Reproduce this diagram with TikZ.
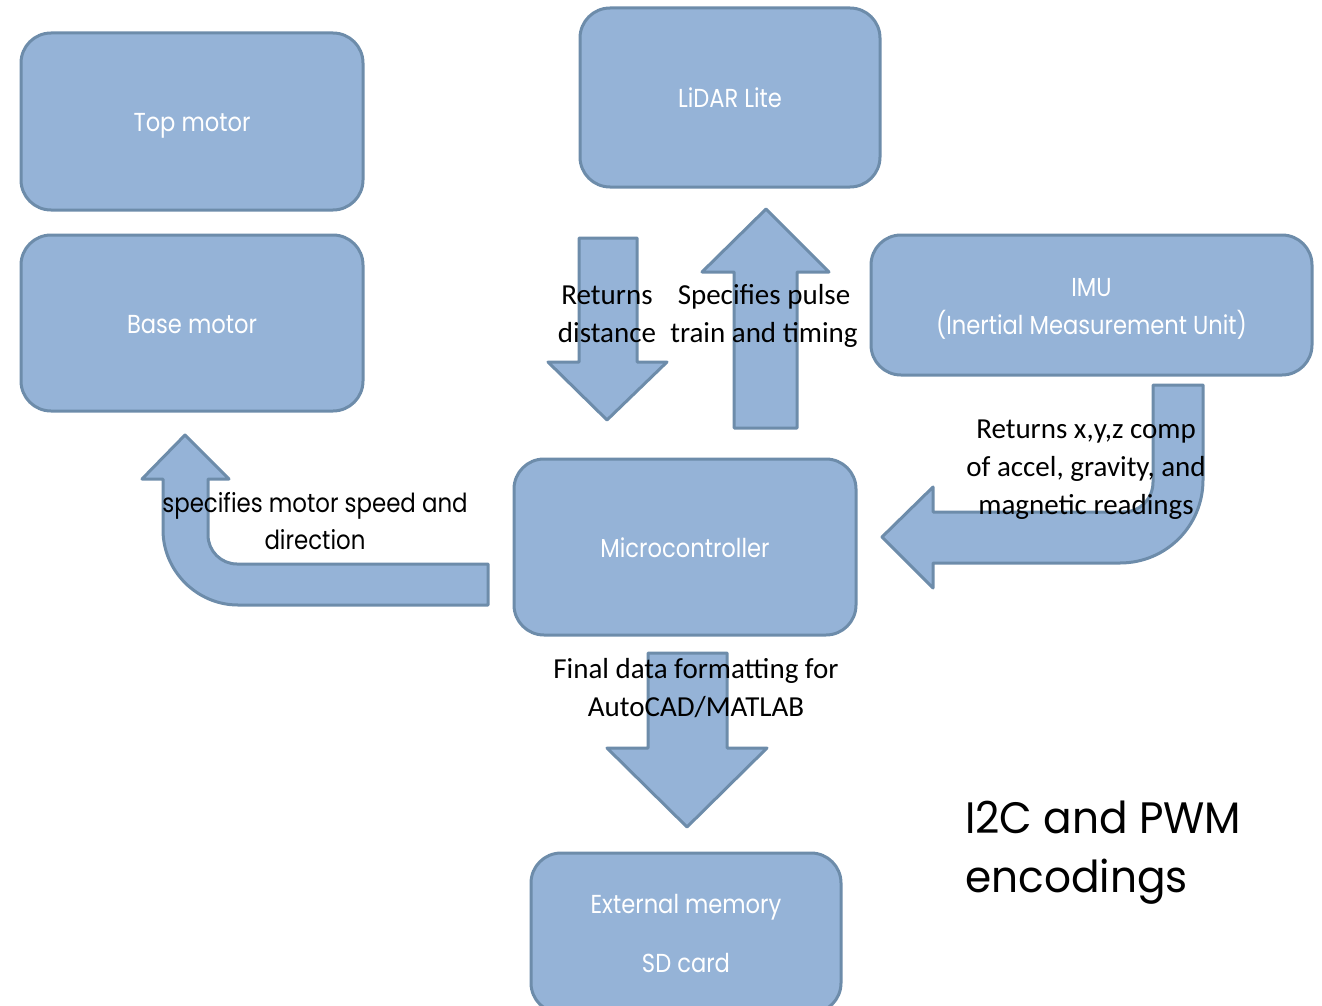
\documentclass[tikz,border=0pt]{standalone}
\usepackage{fontspec}
\setmainfont{Carlito}
\newfontfamily\tw[FakeStretch=0.87]{Poppins}
\newfontfamily\twwide[FakeStretch=0.96]{Poppins}
\definecolor{boxfill}{HTML}{95B3D7}
\definecolor{boxedge}{HTML}{6D8CAA}
\tikzset{
  blk/.style={draw=boxedge, fill=boxfill, line width=3pt, rounded corners=30pt,
    text=white, align=center, inner sep=0pt, font=\tw\fontsize{26}{38}\selectfont},
  oneline/.style={text height=26pt, text depth=6pt},
  barrow/.style={draw=boxedge, fill=boxfill, line width=3pt, line join=round},
  lbl/.style={align=center, inner sep=0pt, text=black, font=\fontsize{29}{38}\selectfont},
  twlbl/.style={align=center, inner sep=0pt, text=black, font=\tw\fontsize{26.3}{37}\selectfont},
}
\begin{document}
\begin{tikzpicture}[x=1pt, y=-1pt]
\clip (0,0) rectangle (1322,1006);
% boxes
\node[blk, oneline, minimum width=342pt, minimum height=177pt] (topm) at (192,121.5) {Top motor};
\node[blk, oneline, minimum width=342pt, minimum height=176pt] (basem) at (192,323) {Base motor};
\node[blk, oneline, minimum width=300pt, minimum height=179pt] (lidar) at (730,97.5) {LiDAR Lite};
\node[blk, minimum width=441pt, minimum height=140pt] (imu) at (1091.5,305) {\rule{0pt}{26pt}IMU\\(Inertial Measurement Unit)};
\node[blk, oneline, minimum width=342pt, minimum height=176pt] (mcu) at (685,547) {Microcontroller};
\node[blk, minimum width=310pt, minimum height=160pt, font=\tw\fontsize{26}{59}\selectfont] (sd) at (686,933) {External memory\\SD card};
% block arrows
\draw[barrow] (579,238) -- (637,238) -- (637,362) -- (667,362) -- (607,420) -- (548,362) -- (579,362) -- cycle;
\draw[barrow] (734,428) -- (797,428) -- (797,272) -- (829,272) -- (766,209) -- (702,272) -- (734,272) -- cycle;
\draw[barrow] (648,653) -- (727,653) -- (727,748) -- (767,748) -- (687,827) -- (607,748) -- (648,748) -- cycle;
\draw[barrow] (1153,385) -- (1203,385) -- (1203,480) .. controls (1203,526) and (1166,563) .. (1120,563)
  -- (933,563) -- (933,588) -- (882,537) -- (933,487) -- (933,512) -- (1123,512)
  .. controls (1140,512) and (1153,499) .. (1153,482) -- cycle;
\draw[barrow] (488,564) -- (237,564) .. controls (221,564) and (208,551) .. (208,535) -- (208,479)
  -- (229,479) -- (185,435) -- (142,479) -- (163,479) -- (163,530)
  .. controls (163,571) and (197,605) .. (238,605) -- (488,605) -- cycle;
% labels
\node[lbl] (retL) at (607,314) {Returns\\distance};
\node[lbl] (specL) at (764,316) {Specifies pulse\\train and timing};
\node[lbl] (imuL) at (1086,470) {Returns x,y,z comp\\of accel, gravity, and\\magnetic readings};
\node[lbl] (finL) at (696,688) {Final data formatting for\\AutoCAD/MATLAB};
\node[twlbl] (motL) at (315,521) {specifies motor speed and\\direction};
\node[anchor=west, align=left, inner sep=0pt, font=\twwide\fontsize{44}{59}\selectfont] (encL) at (965,853) {I2C and PWM\\encodings};
\end{tikzpicture}
\end{document}
